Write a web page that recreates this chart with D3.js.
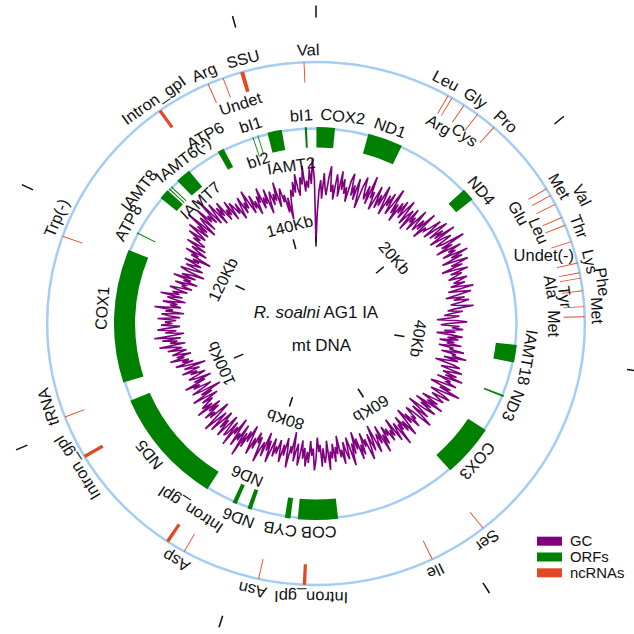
<!DOCTYPE html>
<html>
<head>
<meta charset="utf-8">
<script src="https://cdn.jsdelivr.net/npm/d3@7"></script>
<style>
  html, body { margin: 0; padding: 0; background: #fff; }
  text { font-family: "Liberation Sans", Arial, sans-serif; fill: #111; }
</style>
</head>
<body>
<svg id="chart" width="634" height="634"></svg>
<script>
// ---- data -------------------------------------------------------------
const genomeLength = 146; // kb

const kbTicks = [0, 20, 40, 60, 80, 100, 120, 140];
const kbTickLabels = ["", "20Kb", "40Kb", "60Kb", "80Kb", "100Kb", "120Kb", "140Kb"];

// protein-coding genes / intronic ORFs (kb)
const orfs = [
  { name: "COX2", start: 0.05, end: 2.2 },
  { name: "ND1", start: 6.1, end: 10.2 },
  { name: "ND4", start: 19.1, end: 20.6 },
  { name: "IAMT18", start: 39.05, end: 41.15 },
  { name: "ND3", start: 45.2, end: 45.4 },
  { name: "COX3", start: 49.8, end: 56.1 },
  { name: "COB", start: 70.45, end: 75.1 },
  { name: "CYB", start: 75.95, end: 76.6 },
  { name: "ND6", start: 80.55, end: 81.05 },
  { name: "ND6", start: 82.4, end: 82.9 },
  { name: "ND5", start: 86.2, end: 100.1 },
  { name: "COX1", start: 102.4, end: 118.4 },
  { name: "ATP8", start: 120.6, end: 120.72 },
  { name: "IAMT8", start: 125.6, end: 126.8 },
  { name: "IAMT7", start: 127.0, end: 127.12 },
  { name: "IAMT7", start: 127.35, end: 127.47 },
  { name: "IAMT6(-)", start: 128.4, end: 130.2 },
  { name: "ATP6", start: 134.2, end: 134.95 },
  { name: "bI2", start: 138.55, end: 138.65 },
  { name: "bI1", start: 139.15, end: 139.25 },
  { name: "IAMT2", start: 140.36, end: 142.03 },
  { name: "bI1", start: 144.7, end: 144.95 }
];

// tRNAs, rRNA and group I introns (kb)
const ncRNAs = [
  { name: "Leu", start: 11.89, end: 11.97 },
  { name: "Arg", start: 12.29, end: 12.37 },
  { name: "Gly", start: 13.51, end: 13.59 },
  { name: "Cys", start: 14.93, end: 15.01 },
  { name: "Pro", start: 16.76, end: 16.84 },
  { name: "Met", start: 23.89, end: 23.97 },
  { name: "Glu", start: 24.58, end: 24.66 },
  { name: "Val", start: 25.46, end: 25.54 },
  { name: "Leu", start: 26.76, end: 26.84 },
  { name: "Thr", start: 27.51, end: 27.59 },
  { name: "Undet(-)", start: 29.06, end: 29.14 },
  { name: "Lys", start: 31.03, end: 31.11 },
  { name: "Ala", start: 31.92, end: 32.0 },
  { name: "Phe", start: 32.41, end: 32.49 },
  { name: "Tyr", start: 33.54, end: 33.62 },
  { name: "Met", start: 34.96, end: 35.04 },
  { name: "Met", start: 35.86, end: 35.94 },
  { name: "Ser", start: 57.36, end: 57.44 },
  { name: "Ile", start: 62.56, end: 62.64 },
  { name: "Intron_gpI", start: 73.85, end: 74.15 },
  { name: "Asn", start: 77.96, end: 78.04 },
  { name: "Asp", start: 84.86, end: 84.94 },
  { name: "Intron_gpI", start: 86.45, end: 86.75 },
  { name: "Intron_gpI", start: 96.95, end: 97.25 },
  { name: "tRNA", start: 100.96, end: 101.04 },
  { name: "Trp(-)", start: 117.36, end: 117.44 },
  { name: "Intron_gpI", start: 131.45, end: 131.75 },
  { name: "Arg", start: 136.36, end: 136.44 },
  { name: "Undet", start: 137.76, end: 137.84 },
  { name: "SSU", start: 139.35, end: 139.7 },
  { name: "Val", start: 144.92, end: 145.0 }
];

// name tags: genome position (kb) and which side of the ring they sit on
const orfLabels = [
  { text: "COX2", at: 2.9, side: "out" },
  { text: "ND1", at: 8.2, side: "out" },
  { text: "ND4", at: 20.45, side: "out" },
  { text: "IAMT18", at: 40.3, side: "out" },
  { text: "ND3", at: 45.9, side: "out" },
  { text: "COX3", at: 53.2, side: "out" },
  { text: "COB", at: 72.7, side: "out" },
  { text: "CYB", at: 76.9, side: "out" },
  { text: "ND6", at: 81.6, side: "out" },
  { text: "ND6", at: 82.6, side: "in" },
  { text: "ND5", at: 93.7, side: "out" },
  { text: "COX1", at: 111.2, side: "out" },
  { text: "ATP8", at: 121.2, side: "out" },
  { text: "IAMT8", at: 124.8, side: "out" },
  { text: "IAMT7", at: 128.8, side: "in" },
  { text: "IAMT6(-)", at: 130.5, side: "out" },
  { text: "ATP6", at: 133.9, side: "out" },
  { text: "bI2", at: 138.3, side: "in" },
  { text: "bI1", at: 138.8, side: "out" },
  { text: "IAMT2", at: 142.47, side: "in" },
  { text: "bI1", at: 144.4, side: "out" }
];

const ncLabels = [
  { text: "Leu", at: 11.15, side: "out" },
  { text: "Arg", at: 12.57, side: "in" },
  { text: "Gly", at: 14.0, side: "out" },
  { text: "Cys", at: 15.2, side: "in" },
  { text: "Pro", at: 17.2, side: "out" },
  { text: "Met", at: 24.3, side: "out" },
  { text: "Glu", at: 24.64, side: "in" },
  { text: "Val", at: 25.8, side: "out" },
  { text: "Leu", at: 27.1, side: "in" },
  { text: "Thr", at: 28.07, side: "out" },
  { text: "Undet(-)", at: 29.5, side: "in" },
  { text: "Lys", at: 31.2, side: "out" },
  { text: "Ala", at: 32.8, side: "in" },
  { text: "Phe", at: 33.05, side: "out" },
  { text: "Tyr", at: 33.95, side: "in" },
  { text: "Met", at: 35.4, side: "out" },
  { text: "Met", at: 36.5, side: "in" },
  { text: "Ser", at: 57.8, side: "out" },
  { text: "Ile", at: 62.8, side: "out" },
  { text: "Intron_gpI", at: 73.4, side: "out" },
  { text: "Asn", at: 78.3, side: "out" },
  { text: "Asp", at: 85.1, side: "out" },
  { text: "Intron_gpI", at: 86.5, side: "in" },
  { text: "Intron_gpI", at: 96.6, side: "out" },
  { text: "tRNA", at: 102.3, side: "out" },
  { text: "Trp(-)", at: 118.7, side: "out" },
  { text: "Intron_gpI", at: 131.7, side: "out" },
  { text: "Arg", at: 136.5, side: "out" },
  { text: "Undet", at: 138.5, side: "in" },
  { text: "SSU", at: 139.9, side: "out" },
  { text: "Val", at: 145.35, side: "out" }
];

// GC content (%) in 0.25 kb windows, starting at position 0 (one row = 5 kb)
const gcStepKb = 0.25;
const gcPercent = [
  23, 31, 37, 40, 35, 42, 38, 36, 41, 44, 37, 39, 35, 42, 40, 36, 43, 38, 41, 37,
  39, 35, 41, 43, 37, 40, 36, 42, 38, 34, 40, 43, 39, 37, 41, 36, 44, 38, 40, 35,
  38, 42, 36, 40, 37, 43, 39, 35, 41, 38, 42, 36, 39, 44, 37, 40, 35, 41, 38, 42,
  37, 40, 43, 36, 39, 41, 35, 42, 38, 40, 36, 43, 39, 37, 41, 38, 44, 36, 40, 39,
  41, 44, 38, 42, 45, 39, 43, 40, 46, 38, 42, 44, 39, 41, 47, 40, 43, 38, 45, 41,
  43, 39, 46, 41, 44, 38, 42, 45, 40, 43, 37, 41, 44, 39, 42, 40, 38, 43, 41, 39,
  42, 38, 41, 44, 37, 40, 43, 39, 36, 41, 38, 42, 40, 37, 39, 43, 38, 36, 40, 37,
  35, 39, 37, 33, 38, 41, 36, 34, 39, 37, 40, 35, 38, 33, 37, 40, 36, 39, 34, 38,
  36, 40, 34, 38, 37, 41, 35, 39, 38, 42, 36, 40, 37, 34, 39, 41, 38, 36, 42, 39,
  37, 41, 38, 43, 36, 40, 39, 42, 37, 35, 41, 38, 44, 39, 36, 40, 42, 37, 39, 41,
  38, 35, 40, 37, 42, 34, 39, 36, 41, 38, 33, 37, 40, 35, 39, 42, 36, 34, 38, 37,
  40, 35, 38, 33, 37, 41, 36, 39, 34, 38, 36, 42, 35, 37, 40, 33, 38, 36, 39, 35,
  37, 34, 39, 36, 41, 33, 38, 35, 37, 40, 32, 36, 39, 34, 38, 41, 35, 37, 33, 39,
  36, 40, 34, 37, 32, 38, 35, 41, 36, 33, 39, 37, 34, 40, 36, 38, 32, 37, 35, 39,
  34, 38, 36, 41, 33, 37, 39, 35, 40, 34, 36, 32, 38, 41, 35, 37, 33, 39, 36, 40,
  35, 38, 33, 37, 40, 34, 36, 39, 31, 37, 35, 41, 36, 33, 38, 35, 40, 37, 34, 38,
  36, 39, 34, 37, 41, 35, 38, 33, 40, 36, 38, 42, 35, 37, 34, 39, 36, 41, 37, 33,
  38, 35, 40, 36, 43, 34, 39, 37, 41, 33, 38, 36, 42, 35, 39, 40, 34, 37, 41, 36,
  39, 34, 37, 41, 35, 38, 42, 36, 33, 39, 37, 40, 35, 38, 34, 41, 36, 39, 37, 35,
  38, 33, 36, 40, 34, 37, 31, 36, 39, 35, 33, 38, 36, 40, 34, 37, 32, 36, 38, 35,
  33, 37, 35, 39, 34, 36, 38, 32, 37, 40, 35, 38, 36, 41, 37, 39, 35, 40, 38, 36,
  41, 37, 39, 43, 36, 40, 38, 42, 37, 44, 39, 36, 41, 38, 43, 40, 37, 42, 39, 41,
  38, 43, 37, 40, 42, 36, 41, 39, 44, 37, 40, 38, 42, 36, 39, 41, 37, 43, 38, 40,
  36, 39, 41, 35, 38, 37, 40, 34, 38, 36, 41, 35, 39, 37, 33, 38, 40, 36, 34, 39,
  37, 35, 40, 36, 38, 33, 39, 37, 41, 35, 38, 40, 36, 42, 38, 37, 41, 39, 43, 38,
  40, 44, 38, 42, 39, 46, 37, 41, 43, 38, 45, 40, 42, 39, 47, 38, 41, 44, 37, 42,
  39, 43, 37, 40, 38, 42, 36, 41, 39, 37, 40, 35, 38, 41, 36, 39, 37, 42, 38, 35,
  40, 36, 38, 34, 39, 37, 41, 35, 38, 36, 40, 33, 37, 39, 35, 38, 36, 41, 34, 37,
  39, 35, 37, 32, 36, 30, 35, 38, 36, 40, 37, 42, 38, 36, 41, 39, 44, 37, 40, 38,
  43, 39, 46, 40
];

const legendItems = ["GC", "ORFs", "ncRNAs"];

// ---- layout & style ---------------------------------------------------
const colors = { GC: "#800080", ORFs: "#008000", ncRNAs: "#e04b26", ring: "#a3cdf5" };
const cx = 316, cy = 323.5, stretchX = 1.028;
const R = {
  outerRing: 261.5, innerRing: 195,
  ncIn: 241, ncOut: 261.5,
  orfIn: 176, orfOut: 196.5,
  tickIn: 77, tickOut: 87, tickLabel: 101,
  outerTickIn: 306, outerTickOut: 318,
  orfLabelOut: 209, orfLabelIn: 167,
  ncLabelOut: 274, ncLabelIn: 232
};
// extra radial offsets for crowded name tags
const labelShift = {
  "IAMT8": 9, "ATP6": 8, "IAMT2": -7, "bI2": 6,
  "Val@25.8": 15, "Phe@33.05": 8, "Glu@24.64": -6, "Leu@27.1": 4,
  "Tyr@33.95": 12, "Cys@15.2": 6, "Intron_gpI@86.5": -9
};
const horizontalLabels = new Set(["Undet(-)"]);

const svg = d3.select("#chart");
const g = svg.append("g")
  .attr("transform", `translate(${cx},${cy}) scale(${stretchX},1)`);

const angle = d3.scaleLinear().domain([0, genomeLength]).range([0, 2 * Math.PI]);
const gcRadius = d3.scaleLinear().domain([20, 50]).range([70, 180]);
const deg = kb => angle(kb) * 180 / Math.PI;
const polar = (kb, r) => [r * Math.sin(angle(kb)), -r * Math.cos(angle(kb))];

// rings
g.selectAll("circle.ring")
  .data([R.outerRing, R.innerRing])
  .join("circle")
  .attr("class", "ring")
  .attr("r", d => d)
  .attr("fill", "none")
  .attr("stroke", colors.ring)
  .attr("stroke-width", 2.4);

// feature arcs
const orfArc = d3.arc().innerRadius(R.orfIn).outerRadius(R.orfOut)
  .startAngle(d => angle(d.start)).endAngle(d => angle(d.end));
const ncArc = d3.arc().innerRadius(R.ncIn).outerRadius(R.ncOut)
  .startAngle(d => angle(d.start)).endAngle(d => angle(d.end));

g.append("g").selectAll("path")
  .data(orfs).join("path")
  .attr("d", orfArc)
  .attr("fill", colors.ORFs);

g.append("g").selectAll("path")
  .data(ncRNAs).join("path")
  .attr("d", ncArc)
  .attr("fill", colors.ncRNAs);

// GC content trace
const gcLine = d3.lineRadial()
  .angle((d, i) => angle(i * gcStepKb))
  .radius(d => gcRadius(d))
  .curve(d3.curveLinearClosed);

g.append("path")
  .datum(gcPercent)
  .attr("d", gcLine)
  .attr("fill", "none")
  .attr("stroke", colors.GC)
  .attr("stroke-width", 1.6)
  .attr("stroke-linejoin", "miter");

// kb scale: inner ticks with labels, outer ticks without
const tickG = g.append("g");
kbTicks.forEach((kb, i) => {
  const [x1, y1] = polar(kb, R.tickIn), [x2, y2] = polar(kb, R.tickOut);
  tickG.append("line").attr("x1", x1).attr("y1", y1).attr("x2", x2).attr("y2", y2)
    .attr("stroke", "#111").attr("stroke-width", 1.5);
  const [ox1, oy1] = polar(kb, R.outerTickIn), [ox2, oy2] = polar(kb, R.outerTickOut);
  tickG.append("line").attr("x1", ox1).attr("y1", oy1).attr("x2", ox2).attr("y2", oy2)
    .attr("stroke", "#111").attr("stroke-width", 1.5);
  if (kbTickLabels[i]) {
    const [tx, ty] = polar(kb, R.tickLabel);
    tickG.append("text")
      .attr("transform", `translate(${tx},${ty}) rotate(${deg(kb)})`)
      .attr("text-anchor", "middle")
      .attr("dominant-baseline", "central")
      .attr("font-size", 16)
      .text(kbTickLabels[i]);
  }
});

// name tags
function drawLabels(list, rOut, rIn) {
  const lg = g.append("g");
  list.forEach(d => {
    const key = `${d.text}@${d.at}`;
    const shift = labelShift[key] ?? labelShift[d.text] ?? 0;
    const r = (d.side === "out" ? rOut : rIn) + shift;
    const [x, y] = polar(d.at, r);
    const rot = horizontalLabels.has(d.text) ? 0 : deg(d.at);
    lg.append("text")
      .attr("transform", `translate(${x},${y}) rotate(${rot})`)
      .attr("text-anchor", "middle")
      .attr("dominant-baseline", "central")
      .attr("font-size", 16)
      .text(d.text);
  });
}
drawLabels(orfLabels, R.orfLabelOut, R.orfLabelIn);
drawLabels(ncLabels, R.ncLabelOut, R.ncLabelIn);

// centre title
const title = g.append("text").attr("text-anchor", "middle").attr("y", -5.2).attr("font-size", 16.5);
title.append("tspan").attr("font-style", "italic").text("R. soalni");
title.append("tspan").text(" AG1 IA");
g.append("text").attr("text-anchor", "middle").attr("x", 5.3).attr("y", 28)
  .attr("font-size", 16.5).text("mt DNA");

// legend
const legend = svg.append("g").attr("transform", `translate(537,536.7) scale(${stretchX},1)`);
legendItems.forEach((name, i) => {
  legend.append("rect")
    .attr("x", 0).attr("y", i * 15.8)
    .attr("width", 24.3).attr("height", 9)
    .attr("fill", colors[name]);
  legend.append("text")
    .attr("x", 32)
    .attr("y", i * 15.8 + 9.6)
    .attr("font-size", 14.5)
    .text(name);
});
</script>
</body>
</html>
